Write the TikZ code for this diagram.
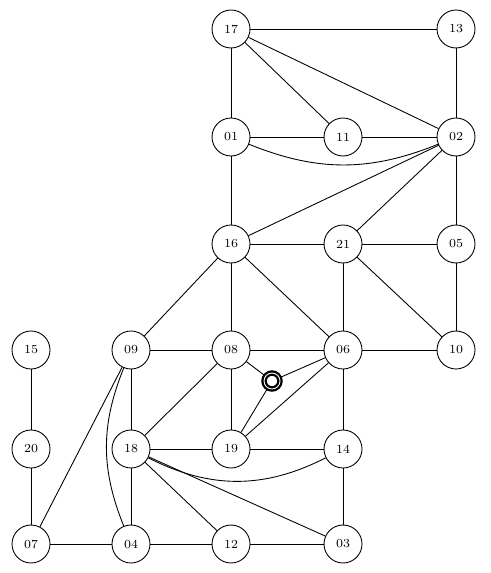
\documentclass[tikz,border=0pt]{standalone}
\usepackage{tikz}
\usetikzlibrary{positioning}

\begin{document}
\begin{tikzpicture}[
  x=0.02cm, y=-0.02cm,
  every node/.style={font=\fontsize{7}{8}\selectfont},
  station/.style={circle, draw, line width=0.5pt, minimum size=0.76cm, inner sep=0pt},
  hub/.style={circle, draw, line width=1.3pt, double=white, double distance=0.5pt,
              minimum size=0.32cm, inner sep=0pt},
  link/.style={line width=0.5pt},
]

\useasboundingbox (0,0) rectangle (490,573);

\def\xA{31} \def\xB{131} \def\xC{231} \def\xD{343} \def\xE{456}
\def\yA{29} \def\yB{137} \def\yC{244} \def\yD{350} \def\yE{449} \def\yF{544}

% Stations
\node[station] (n17) at (\xC,\yA) {17};
\node[station] (n13) at (\xE,\yA) {13};
\node[station] (n01) at (\xC,\yB) {01};
\node[station] (n11) at (\xD,\yB) {11};
\node[station] (n02) at (\xE,\yB) {02};
\node[station] (n16) at (\xC,\yC) {16};
\node[station] (n21) at (\xD,\yC) {21};
\node[station] (n05) at (\xE,\yC) {05};
\node[station] (n15) at (\xA,\yD) {15};
\node[station] (n09) at (\xB,\yD) {09};
\node[station] (n08) at (\xC,\yD) {08};
\node[station] (n06) at (\xD,\yD) {06};
\node[station] (n10) at (\xE,\yD) {10};
\node[station] (n20) at (\xA,\yE) {20};
\node[station] (n18) at (\xB,\yE) {18};
\node[station] (n19) at (\xC,\yE) {19};
\node[station] (n14) at (\xD,\yE) {14};
\node[station] (n07) at (\xA,\yF) {07};
\node[station] (n04) at (\xB,\yF) {04};
\node[station] (n12) at (\xC,\yF) {12};
\node[station] (n03) at (\xD,\yF) {03};

% Hub
\node[hub] (hub) at (272,381) {};

% Straight links
\foreach \a/\b in {n17/n13, n17/n01, n17/n11, n17/n02, n13/n02, n01/n11, n11/n02,
                   n01/n16, n02/n16, n02/n21, n02/n05, n16/n21, n21/n05, n21/n06,
                   n21/n10, n05/n10, n16/n09, n16/n08, n16/n06, n09/n08, n08/n06,
                   n06/n10, n09/n18, n09/n07, n08/n18, n08/n19, n08/hub, hub/n06,
                   hub/n19, n06/n19, n06/n14, n18/n19, n19/n14, n14/n03, n18/n04,
                   n18/n12, n18/n03, n15/n20, n20/n07, n07/n04, n04/n12, n12/n03}
  \draw[link] (\a) -- (\b);

% Curved links
\draw[link] (n01) to[bend right=22] (n02);
\draw[link] (n09) to[bend right=22] (n04);
\draw[link] (n18) to[bend right=27] (n14);

\end{tikzpicture}
\end{document}
